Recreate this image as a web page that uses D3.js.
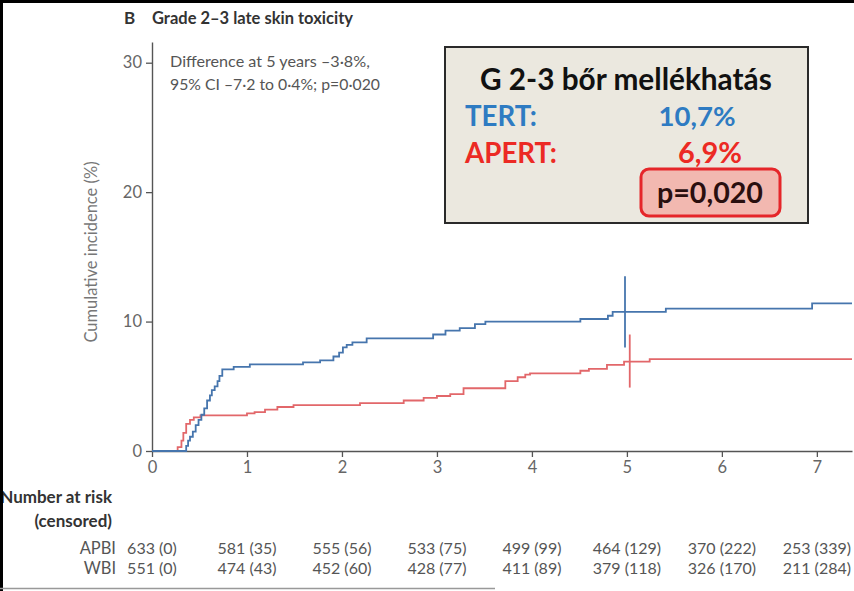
<!DOCTYPE html>
<html><head><meta charset="utf-8">
<script src="https://cdn.jsdelivr.net/npm/d3@7"></script>
<style>html,body{margin:0;padding:0;background:#fff;}svg{display:block;}</style>
</head><body>
<svg id="c" width="854" height="591"></svg>
<script>
// ---- data ----
const xTicks = [0,1,2,3,4,5,6,7];
const yTicks = [0,10,20,30];
// WBI (TERT) cumulative incidence, step points [years, %]
const wbiCurve = [[0,0],[0.33,0],[0.36,0.4],[0.38,0.8],[0.40,1.1],[0.43,1.5],[0.46,2.0],[0.49,2.4],[0.52,2.8],[0.55,3.3],[0.58,3.9],[0.61,4.3],[0.63,4.7],[0.66,5.0],[0.69,5.4],[0.71,5.8],[0.74,6.3],[0.86,6.5],[1.03,6.7],[1.59,6.85],[1.77,7.0],[1.91,7.3],[1.97,7.6],[2.01,8.0],[2.05,8.2],[2.11,8.4],[2.26,8.7],[2.96,9.0],[3.09,9.3],[3.24,9.5],[3.40,9.8],[3.51,10.0],[4.51,10.2],[4.80,10.45],[4.85,10.75],[5.41,11.0],[6.95,11.4],[7.37,11.4]];
// APBI (APERT) cumulative incidence
const apbiCurve = [[0,0],[0.24,0],[0.27,0.3],[0.31,0.8],[0.33,1.4],[0.36,2.1],[0.40,2.4],[0.44,2.6],[0.51,2.75],[1.0,2.9],[1.08,3.0],[1.19,3.2],[1.32,3.4],[1.49,3.55],[2.19,3.7],[2.65,3.9],[2.86,4.1],[3.0,4.25],[3.14,4.4],[3.28,4.85],[3.72,5.4],[3.85,5.7],[3.93,5.9],[3.98,6.0],[4.51,6.2],[4.60,6.35],[4.79,6.65],[4.97,6.9],[5.24,7.1],[7.37,7.1]];
// 95% CI bars at 5 years [x, low, high]
const wbiCI = [4.98, 8.0, 13.5];
const apbiCI = [5.03, 4.9, 9.0];
const riskRows = ["APBI","WBI"];
const apbiRisk = ["633 (0)","581 (35)","555 (56)","533 (75)","499 (99)","464 (129)","370 (222)","253 (339)"];
const wbiRisk  = ["551 (0)","474 (43)","452 (60)","428 (77)","411 (89)","379 (118)","326 (170)","211 (284)"];
const titleLetter = "B";
const titleText = "Grade 2–3 late skin toxicity";
const yLabel = "Cumulative incidence (%)";
const noteLines = ["Difference at 5 years –3·8%,","95% CI –7·2 to 0·4%; p=0·020"];
const boxTitle = "G 2-3 bőr mellékhatás";
const boxRows = [["TERT:","10,7%"],["APERT:","6,9%"]];
const boxP = "p=0,020";

// ---- drawing ----
const svg = d3.select("#c");
const FONT = "Lato, 'Open Sans', sans-serif";
const blue = "#4675ad", red = "#e2676a", axisCol = "#555";
const x = d3.scaleLinear().domain([0,7.37]).range([152,852]);
const y = d3.scaleLinear().domain([0,31.6]).range([451,42]);

function fit(sel, w){ const l = sel.node().getComputedTextLength(); const fs = parseFloat(sel.attr("font-size")); sel.attr("font-size", fs*w/l); return sel; }

// title
svg.append("text").attr("x",124).attr("y",24).attr("font-family",FONT).attr("font-weight","bold").attr("font-size",17).attr("fill","#333").text(titleLetter);
fit(svg.append("text").attr("x",152).attr("y",24).attr("font-family",FONT).attr("font-weight","bold").attr("font-size",15).attr("fill","#333").text(titleText),201);

// axes
const yAxis = svg.append("g").attr("transform","translate(152,0)")
  .call(d3.axisLeft(y).tickValues(yTicks).tickSize(6).tickSizeOuter(0).tickPadding(4));
const xAxis = svg.append("g").attr("transform","translate(0,451)")
  .call(d3.axisBottom(x).tickValues(xTicks).tickSize(6).tickSizeOuter(0).tickPadding(4));
[yAxis,xAxis].forEach(g=>{
  g.select(".domain").attr("stroke",axisCol).attr("stroke-width",1.4);
  g.selectAll(".tick line").attr("stroke",axisCol).attr("stroke-width",1.3);
  g.selectAll(".tick text").attr("fill","#666").attr("font-family",FONT).attr("font-size",16.5);
});

svg.append("text").attr("transform","translate(97,252) rotate(-90)").attr("text-anchor","middle")
  .attr("font-family",FONT).attr("font-size",16.5).attr("fill","#777").text(yLabel);

noteLines.forEach((t,i)=>{
  fit(svg.append("text").attr("x",170).attr("y",67+i*23).attr("font-family",FONT).attr("font-size",16).attr("fill","#555").text(t), i===0?200:210);
});

// curves
const line = d3.line().x(d=>x(d[0])).y(d=>y(d[1])).curve(d3.curveStepAfter);
svg.append("path").datum(apbiCurve).attr("d",line).attr("fill","none").attr("stroke",red).attr("stroke-width",1.8);
svg.append("path").datum(wbiCurve).attr("d",line).attr("fill","none").attr("stroke",blue).attr("stroke-width",1.8);
[[wbiCI,blue],[apbiCI,red]].forEach(([c,col])=>{
  svg.append("line").attr("x1",x(c[0])).attr("x2",x(c[0])).attr("y1",y(c[1])).attr("y2",y(c[2])).attr("stroke",col).attr("stroke-width",1.8);
});

// number at risk
svg.append("text").attr("x",112).attr("y",503).attr("text-anchor","end").attr("font-family",FONT).attr("font-weight","bold").attr("font-size",17).attr("fill","#333").text("Number at risk");
svg.append("text").attr("x",112).attr("y",527).attr("text-anchor","end").attr("font-family",FONT).attr("font-weight","bold").attr("font-size",17).attr("fill","#333").text("(censored)");
[apbiRisk,wbiRisk].forEach((row,i)=>{
  const yy = 554 + i*20;
  svg.append("text").attr("x",116).attr("y",yy).attr("text-anchor","end").attr("font-family",FONT).attr("font-size",16.5).attr("fill","#555").text(riskRows[i]);
  row.forEach((t,j)=>{
    svg.append("text").attr("x",x(xTicks[j])).attr("y",yy).attr("text-anchor","middle").attr("font-family",FONT).attr("font-size",16).attr("fill","#555").text(t);
  });
});

// annotation box
svg.append("rect").attr("x",445).attr("y",47).attr("width",363).attr("height",176).attr("fill","#ebe8df").attr("stroke","#2a2a2a").attr("stroke-width",2);
fit(svg.append("text").attr("x",480).attr("y",90).attr("font-family",FONT).attr("font-weight","bold").attr("font-size",28).attr("fill","#111").text(boxTitle),292);
const rowCols = ["#2e7bc2","#ec2a24"];
const valCenters = [697,710];
const valWidths = [77,64];
const labWidths = [72,92];
boxRows.forEach((r,i)=>{
  const yy = 126 + i*37;
  fit(svg.append("text").attr("x",465).attr("y",yy).attr("font-family",FONT).attr("font-weight","bold").attr("font-size",24).attr("fill",rowCols[i]).text(r[0]),labWidths[i]);
  fit(svg.append("text").attr("x",valCenters[i]).attr("y",yy).attr("text-anchor","middle").attr("font-family",FONT).attr("font-weight","bold").attr("font-size",24).attr("fill",rowCols[i]).text(r[1]),valWidths[i]);
});
svg.append("rect").attr("x",641).attr("y",169).attr("width",139).attr("height",47).attr("rx",8).attr("fill","#f2b8b0").attr("stroke","#e5262a").attr("stroke-width",3);
fit(svg.append("text").attr("x",710).attr("y",203).attr("text-anchor","middle").attr("font-family",FONT).attr("font-weight","bold").attr("font-size",24).attr("fill","#2a0f0f").text(boxP),106);

// frame edges
svg.append("rect").attr("x",0).attr("y",0).attr("width",854).attr("height",3).attr("fill","#000");
svg.append("rect").attr("x",0).attr("y",0).attr("width",3).attr("height",591).attr("fill","#000");
svg.append("line").attr("x1",0).attr("x2",495).attr("y1",588.5).attr("y2",588.5).attr("stroke","#999").attr("stroke-width",1.5);
</script>
</body></html>
